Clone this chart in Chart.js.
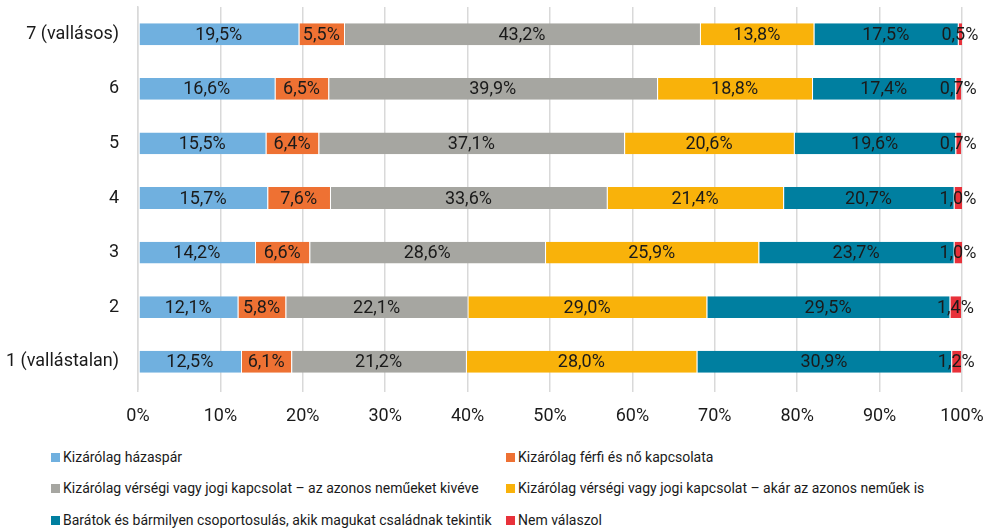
<!DOCTYPE html>
<html lang="hu">
<head>
<meta charset="utf-8">
<script src="https://cdn.jsdelivr.net/npm/chart.js@4/dist/chart.umd.min.js"></script>
<style>
    html, body { margin: 0; padding: 0; background: #fff; }
    body { width: 984px; height: 531px; position: relative; overflow: hidden; font-family: Roboto, sans-serif; }
    #wrap { position: absolute; left: 0; top: 0; width: 984px; height: 440px; }
    .legend-item { position: absolute; font-size: 14px; color: #1a1a1a; white-space: nowrap; height: 16px; line-height: 16px; }
    .legend-item span { display: inline-block; width: 9px; height: 9px; margin-right: 3px; vertical-align: 0px; }
</style>
</head>
<body>
<div id="wrap"><canvas id="chart"></canvas></div>
<div id="legend"></div>
<script>
const categories = ['7 (vallásos)', '6', '5', '4', '3', '2', '1 (vallástalan)'];
const seriesNames = [
    'Kizárólag házaspár',
    'Kizárólag férfi és nő kapcsolata',
    'Kizárólag vérségi vagy jogi kapcsolat – az azonos neműeket kivéve',
    'Kizárólag vérségi vagy jogi kapcsolat – akár az azonos neműek is',
    'Barátok és bármilyen csoportosulás, akik magukat családnak tekintik',
    'Nem válaszol',
];
const hazaspar = [19.5, 16.6, 15.5, 15.7, 14.2, 12.1, 12.5];
const ferfiNo = [5.5, 6.5, 6.4, 7.6, 6.6, 5.8, 6.1];
const versegiKiveve = [43.2, 39.9, 37.1, 33.6, 28.6, 22.1, 21.2];
const versegiAkar = [13.8, 18.8, 20.6, 21.4, 25.9, 29.0, 28.0];
const baratok = [17.5, 17.4, 19.6, 20.7, 23.7, 29.5, 30.9];
const nemValaszol = [0.5, 0.7, 0.7, 1.0, 1.0, 1.4, 1.2];
const xTicks = [0, 10, 20, 30, 40, 50, 60, 70, 80, 90, 100];

const colors = ['#70b0df', '#ee7133', '#a6a6a1', '#f9b20a', '#007fa0', '#e8313a'];
const seriesValues = [hazaspar, ferfiNo, versegiKiveve, versegiAkar, baratok, nemValaszol];
const fontFamily = 'Roboto, sans-serif';

const fmt = (v) => v.toFixed(1).replace('.', ',') + '%';

// value label in the middle of every segment
const valueLabels = {
    id: 'valueLabels',
    afterDatasetsDraw(chart) {
        const ctx = chart.ctx;
        ctx.save();
        ctx.font = '18px ' + fontFamily;
        ctx.fillStyle = '#1a1a1a';
        ctx.textAlign = 'center';
        ctx.textBaseline = 'middle';
        chart.data.datasets.forEach((ds, i) => {
            chart.getDatasetMeta(i).data.forEach((bar, j) => {
                const x = (bar.x + bar.base) / 2;
                ctx.fillText(fmt(ds.data[j]), x, bar.y + 1);
            });
        });
        ctx.restore();
    },
};

const noPadding = (axis) => {
    axis.paddingTop = 0;
    axis.paddingBottom = 0;
    axis.paddingLeft = 0;
    axis.paddingRight = 0;
};

new Chart(document.getElementById('chart'), {
    type: 'bar',
    data: {
        labels: categories,
        datasets: seriesNames.map((name, i) => ({
            label: name,
            data: seriesValues[i],
            backgroundColor: colors[i],
            borderColor: '#ffffff',
            borderWidth: { left: 1 },
            borderSkipped: false,
            barPercentage: 0.4,
            categoryPercentage: 1,
        })),
    },
    options: {
        indexAxis: 'y',
        responsive: true,
        maintainAspectRatio: false,
        animation: false,
        layout: { padding: { top: 7, right: 22, left: 0, bottom: 0 } },
        plugins: {
            legend: { display: false },
            tooltip: { enabled: false },
        },
        scales: {
            x: {
                stacked: true,
                min: 0,
                max: 100,
                afterFit: (axis) => { axis.height = 51; noPadding(axis); },
                afterBuildTicks: (axis) => { axis.ticks = xTicks.map((v) => ({ value: v })); },
                grid: { color: '#d9d9d9', lineWidth: 1.5, tickLength: 3, drawTicks: true },
                border: { display: false },
                ticks: {
                    padding: 14,
                    color: '#1a1a1a',
                    font: { family: fontFamily, size: 18 },
                    callback: (v) => v + '%',
                    maxRotation: 0,
                },
            },
            y: {
                stacked: true,
                afterFit: (axis) => { axis.width = 138; noPadding(axis); },
                grid: { display: false, drawTicks: false },
                border: { display: true, color: '#d9d9d9', width: 1.5 },
                ticks: {
                    padding: 19,
                    color: '#1a1a1a',
                    font: { family: fontFamily, size: 18 },
                },
            },
        },
    },
    plugins: [valueLabels],
});

const legend = document.getElementById('legend');
const legendPos = [[51, 449], [506, 449], [51, 480], [506, 480], [51, 512], [506, 512]];
seriesNames.forEach((name, i) => {
    const item = document.createElement('div');
    item.className = 'legend-item';
    item.style.left = legendPos[i][0] + 'px';
    item.style.top = legendPos[i][1] + 'px';
    item.innerHTML = '<span style="background:' + colors[i] + '"></span>' + name;
    legend.appendChild(item);
});
</script>
</body>
</html>
